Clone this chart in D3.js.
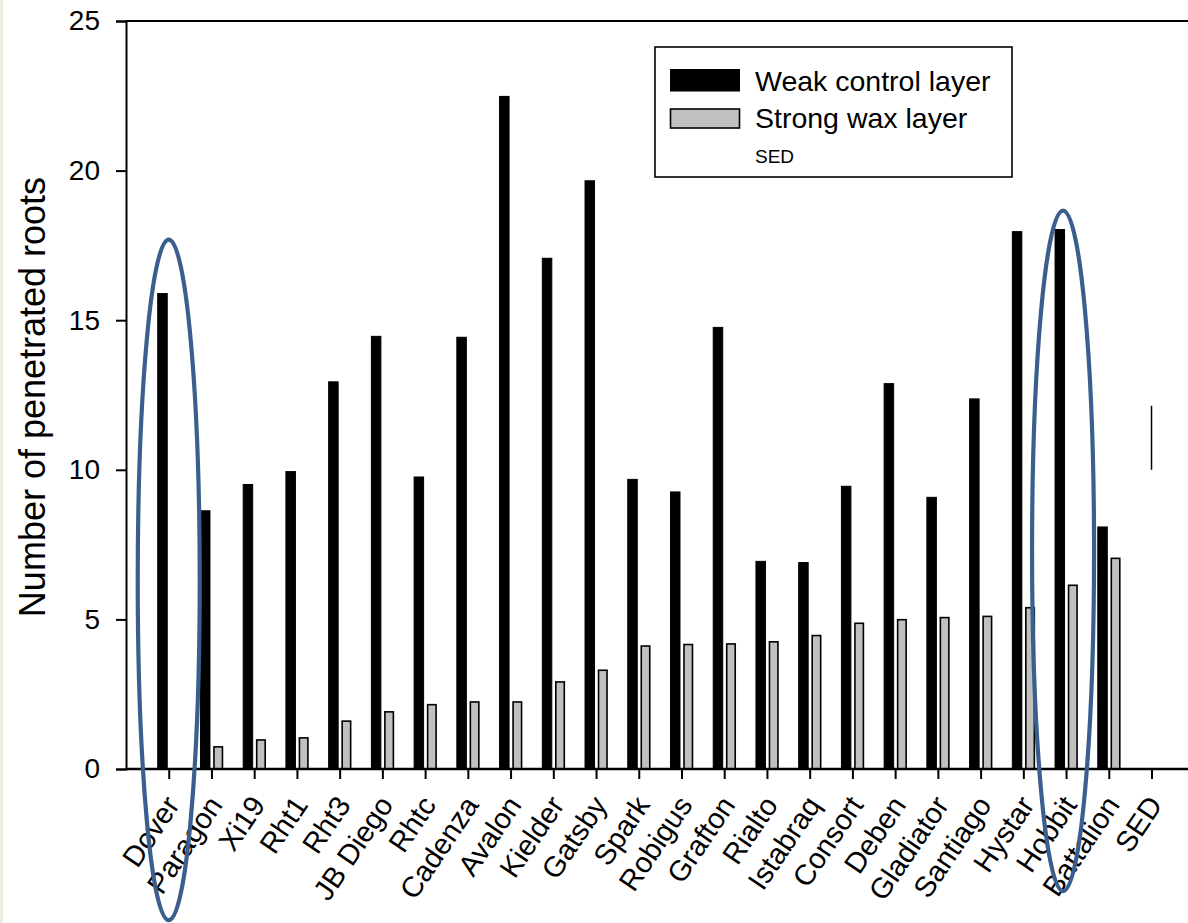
<!DOCTYPE html>
<html>
<head>
<meta charset="utf-8">
<script src="https://cdn.jsdelivr.net/npm/d3@7"></script>
<style>
  html, body { margin: 0; padding: 0; background: #ffffff; }
  svg { display: block; }
  text { font-family: "Liberation Sans", Arial, sans-serif; fill: #000; }
</style>
</head>
<body>
<svg id="chart" width="1188" height="923"></svg>
<script>
// ---- data ----
const categories = ["Dover","Paragon","Xi19","Rht1","Rht3","JB Diego","Rhtc","Cadenza","Avalon","Kielder","Gatsby","Spark","Robigus","Grafton","Rialto","Istabraq","Consort","Deben","Gladiator","Santiago","Hystar","Hobbit","Battalion","SED"];
const weakControl = [15.89, 8.63, 9.51, 9.94, 12.94, 14.46, 9.76, 14.43, 22.48, 17.07, 19.66, 9.68, 9.26, 14.76, 6.94, 6.90, 9.45, 12.88, 9.08, 12.37, 17.96, 18.03, 8.09, null];
const strongWax   = [null, 0.74, 0.97, 1.04, 1.60, 1.91, 2.15, 2.24, 2.24, 2.91, 3.30, 4.11, 4.16, 4.18, 4.25, 4.46, 4.87, 4.99, 5.06, 5.10, 5.39, 6.14, 7.04, null];
const sedValue = 2.14;
const sedBase = 10.0;
const yTicks = [0, 5, 10, 15, 20, 25];
const seriesNames = ["Weak control layer", "Strong wax layer"];
const highlighted = ["Dover", "Hobbit"];

// ---- layout ----
const svg = d3.select("#chart");
svg.append("rect").attr("x", 0).attr("y", 0).attr("width", 3).attr("height", 923).attr("fill", "#eceee0");

const x = d3.scaleLinear().domain([0, 25]).range([126, 126 + 42.73 * 25]);
const y = d3.scaleLinear().domain([0, 25]).range([769, 21]);
const pos = i => x(i + 1);

// frame top line
svg.append("line").attr("x1", 126).attr("x2", 1188).attr("y1", y(25)).attr("y2", y(25))
  .attr("stroke", "#000").attr("stroke-width", 2);

// bars
const g = svg.append("g");
g.selectAll("rect.weak").data(weakControl.map((v, i) => ({v, i})).filter(d => d.v != null))
  .join("rect").attr("class", "weak")
  .attr("x", d => pos(d.i) - 11).attr("width", 9.5)
  .attr("y", d => y(d.v)).attr("height", d => y(0) - y(d.v))
  .attr("fill", "#000").attr("stroke", "#000").attr("stroke-width", 1);

g.selectAll("rect.strong").data(strongWax.map((v, i) => ({v, i})).filter(d => d.v != null))
  .join("rect").attr("class", "strong")
  .attr("x", d => pos(d.i) + 2.5).attr("width", 8.5)
  .attr("y", d => y(d.v)).attr("height", d => y(0) - y(d.v))
  .attr("fill", "#c0c0c0").attr("stroke", "#000").attr("stroke-width", 1.6);

// SED bar
const sedIdx = categories.indexOf("SED");
svg.append("line").attr("x1", pos(sedIdx)).attr("x2", pos(sedIdx))
  .attr("y1", y(sedBase)).attr("y2", y(sedBase + sedValue))
  .attr("stroke", "#000").attr("stroke-width", 1.5);

// y axis
const yAxis = d3.axisLeft(y).tickValues(yTicks).tickSize(10).tickPadding(16);
const ya = svg.append("g").attr("transform", "translate(126,0)").call(yAxis);
ya.select(".domain").attr("stroke-width", 2);
ya.selectAll(".tick line").attr("stroke-width", 2);
ya.selectAll("text").style("font-size", "28px").attr("font-family", "Liberation Sans, Arial, sans-serif");

// x axis
const xAxis = d3.axisBottom(x).tickValues(d3.range(1, categories.length + 1)).tickSize(10).tickFormat(() => "");
const xa = svg.append("g").attr("transform", "translate(0," + y(0) + ")").call(xAxis);
xa.select(".domain").attr("d", "M126,0H1188").attr("stroke-width", 2.5);
xa.selectAll(".tick line").attr("stroke-width", 2);

// x labels
svg.append("g").selectAll("text.xl").data(categories).join("text").attr("class", "xl")
  .attr("transform", (d, i) => `translate(${pos(i) + 12},${y(0) + 36}) rotate(-56)`)
  .attr("text-anchor", "end")
  .style("font-size", "29px")
  .text(d => d);

// y title
svg.append("text")
  .attr("transform", "translate(45,397) rotate(-90)")
  .attr("text-anchor", "middle")
  .style("font-size", "36px")
  .text("Number of penetrated roots");

// legend
const lg = svg.append("g");
lg.append("rect").attr("x", 655).attr("y", 47).attr("width", 357).attr("height", 130)
  .attr("fill", "#fff").attr("stroke", "#000").attr("stroke-width", 1.6);
lg.append("rect").attr("x", 670.5).attr("y", 69.5).attr("width", 69).attr("height", 21.5)
  .attr("fill", "#000").attr("stroke", "#000").attr("stroke-width", 1);
lg.append("rect").attr("x", 670.5).attr("y", 109).attr("width", 69).attr("height", 19)
  .attr("fill", "#c0c0c0").attr("stroke", "#000").attr("stroke-width", 1.6);
lg.append("text").attr("x", 755).attr("y", 91).style("font-size", "28.5px").text(seriesNames[0]);
lg.append("text").attr("x", 755).attr("y", 128).style("font-size", "28.5px").text(seriesNames[1]);
lg.append("text").attr("x", 755).attr("y", 163).style("font-size", "19px").text("SED");

// highlight ellipses
const hl = svg.append("g");
highlighted.forEach((name, k) => {
  const i = categories.indexOf(name);
  const cyVal = k === 0 ? 6.32 : 7.29;
  hl.append("ellipse")
    .attr("cx", pos(i) + (k === 0 ? 0 : -3))
    .attr("cy", y(cyVal))
    .attr("rx", 31)
    .attr("ry", y(0) - y(11.37))
    .attr("fill", "none").attr("stroke", "#3a5f8e").attr("stroke-width", 4.2);
});
</script>
</body>
</html>
